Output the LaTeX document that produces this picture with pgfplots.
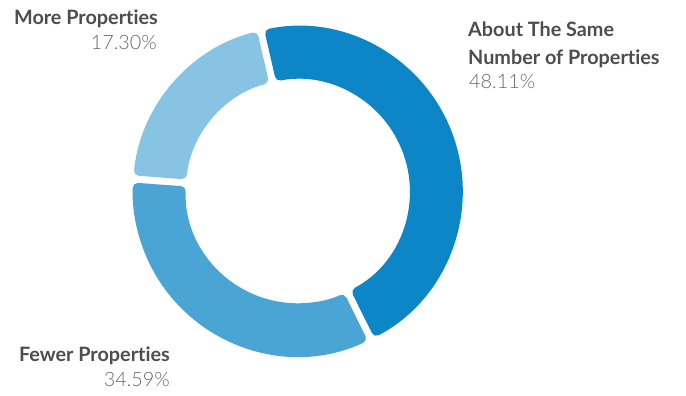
\documentclass[border=0pt]{standalone}
\usepackage{pgfplots}
\usepackage{pgfplotstable}
\pgfplotsset{compat=1.18}
\usepackage{fontspec}
\setmainfont{Lato}[RawFeature={-liga;-clig;-dlig}]
\newfontfamily\lightfont{Lato Light}
\definecolor{segA}{RGB}{12,134,199}
\definecolor{segB}{RGB}{74,165,212}
\definecolor{segC}{RGB}{135,195,226}
\definecolor{lbl}{RGB}{77,77,77}
\definecolor{pct}{RGB}{105,105,105}

% share of the ring drawn for each slice (percent of 360 degrees)
\pgfplotstableread{
slice share
about 46.3
fewer 33.5
more  20.2
}\donutdata

\newcommand{\Rout}{165}
\newcommand{\Rin}{112}
% half gap in degrees at outer / inner radius
\newcommand{\gapo}{1.25}
\newcommand{\gapi}{1.8}

\newcommand{\donutseg}[3]{%
  \fill[#3, rounded corners=5pt, shift={(axis cs:297.8,204.7)}]
    ({90-(#1)-\gapo}:\Rout pt)
    arc[start angle={90-(#1)-\gapo}, end angle={90-(#2)+\gapo}, radius=\Rout pt]
    -- ({90-(#2)+\gapi}:\Rin pt)
    arc[start angle={90-(#2)+\gapi}, end angle={90-(#1)-\gapi}, radius=\Rin pt]
    -- cycle;
}

\begin{document}
\begin{tikzpicture}
\pgfplotstablegetelem{0}{share}\of\donutdata \let\shA\pgfplotsretval
\pgfplotstablegetelem{1}{share}\of\donutdata \let\shB\pgfplotsretval
\pgfplotstablegetelem{2}{share}\of\donutdata \let\shC\pgfplotsretval
\pgfmathsetmacro\tA{-13}
\pgfmathsetmacro\tB{\tA+\shA*3.6}
\pgfmathsetmacro\tC{\tB+\shB*3.6}
\pgfmathsetmacro\tD{\tC+\shC*3.6}
\begin{axis}[
  hide axis, scale only axis,
  width=686pt, height=396pt,
  xmin=0, xmax=686, ymin=0, ymax=396,
  clip=false,
]
\donutseg{\tA}{\tB}{segA}
\donutseg{\tB}{\tC}{segB}
\donutseg{\tC}{\tD}{segC}

\begin{scope}[every node/.style={inner sep=0pt, font=\fontsize{19.8}{21}\selectfont}]
\node[anchor=base east, text=lbl] at (axis cs:158,371) {\bfseries More Properties};
\node[anchor=base east, text=pct] at (axis cs:157,346) {\lightfont 17.30\%};
\node[anchor=base west, text=lbl] at (axis cs:468,359.3) {\bfseries About The Same};
\node[anchor=base west, text=lbl] at (axis cs:468,331.7) {\bfseries Number of Properties};
\node[anchor=base west, text=pct] at (axis cs:469,307.7) {\lightfont 48.11\%};
\node[anchor=base east, text=lbl] at (axis cs:170,34.3) {\bfseries Fewer Properties};
\node[anchor=base east, text=pct] at (axis cs:170,9.3) {\lightfont 34.59\%};
\end{scope}
\end{axis}
\pgfresetboundingbox
\path (current axis.south west) rectangle (current axis.north east);
\end{tikzpicture}
\end{document}
